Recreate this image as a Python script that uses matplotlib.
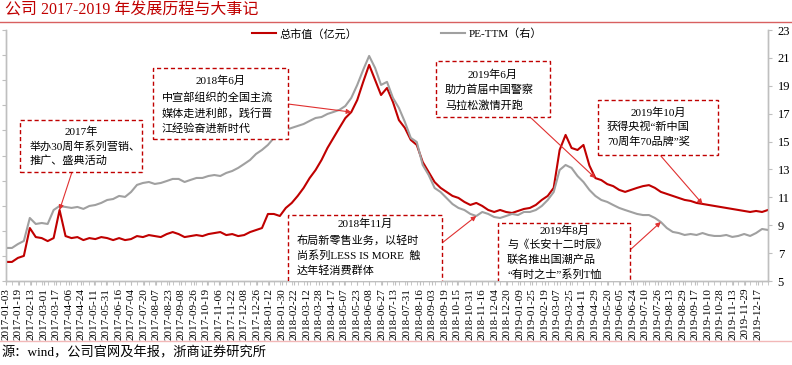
import matplotlib
matplotlib.use("Agg")
import matplotlib.pyplot as plt
from matplotlib.patches import Rectangle
from matplotlib.lines import Line2D
import numpy as np

plt.rcParams['font.family'] = ['Liberation Serif', 'Noto Sans CJK SC', 'DejaVu Sans']

# x tick labels (trading dates shown on the axis)
tick_labels = [
    '2017-01-03', '2017-01-19', '2017-02-13', '2017-03-01', '2017-03-17', '2017-04-06',
    '2017-04-24', '2017-05-11', '2017-05-31', '2017-06-16', '2017-07-04', '2017-07-20',
    '2017-08-07', '2017-08-23', '2017-09-08', '2017-09-26', '2017-10-19', '2017-11-06',
    '2017-11-22', '2017-12-08', '2017-12-26', '2018-01-12', '2018-01-30', '2018-02-22',
    '2018-03-12', '2018-03-28', '2018-04-17', '2018-05-07', '2018-05-23', '2018-06-08',
    '2018-06-27', '2018-07-13', '2018-07-31', '2018-08-16', '2018-09-03', '2018-09-19',
    '2018-10-15', '2018-10-31', '2018-11-16', '2018-12-04', '2018-12-20', '2019-01-09',
    '2019-01-25', '2019-02-19', '2019-03-07', '2019-03-25', '2019-04-11', '2019-04-29',
    '2019-05-20', '2019-06-05', '2019-06-24', '2019-07-10', '2019-07-26', '2019-08-13',
    '2019-08-29', '2019-09-17', '2019-10-10', '2019-10-28', '2019-11-13', '2019-11-29',
    '2019-12-17',
]

# total market value (亿元), read at even steps across the period, left axis (labels hidden)
mkt_cap = [
    7.6, 7.6, 9.2, 10.0, 21.1, 17.5, 17.1, 15.9, 17.1, 28.3,
    17.9, 17.1, 17.5, 16.3, 17.1, 16.7, 17.5, 17.1, 16.3, 17.1,
    16.3, 16.7, 17.9, 17.5, 18.3, 17.9, 17.5, 18.7, 19.5, 18.7,
    17.5, 17.9, 18.3, 17.9, 18.7, 19.1, 19.5, 18.3, 18.7, 17.9,
    18.3, 19.5, 20.3, 21.1, 26.7, 26.7, 25.9, 29.1, 31.1, 33.9,
    37.1, 41.0, 44.2, 48.2, 53.0, 57.0, 61.0, 64.9, 67.3, 72.1,
    79.3, 86.1, 80.1, 74.1, 76.9, 71.3, 64.1, 61.0, 56.2, 54.2,
    47.4, 43.4, 39.4, 37.1, 35.5, 33.9, 33.1, 31.5, 30.3, 31.1,
    29.9, 28.3, 27.5, 28.3, 27.5, 27.1, 27.9, 28.7, 29.1, 30.3,
    32.3, 33.9, 37.1, 52.2, 58.2, 53.0, 52.2, 54.2, 46.0, 41.0,
    40.2, 38.6, 37.8, 36.3, 35.5, 36.3, 37.1, 37.8, 38.2, 37.1,
    35.5, 34.7, 33.9, 33.1, 32.3, 31.9, 31.1, 30.7, 30.3, 29.9,
    29.5, 29.1, 28.7, 28.3, 27.9, 27.5, 27.9, 27.5, 28.3,
]

# PE-TTM, right axis
pe_ttm = [
    7.37, 7.37, 7.65, 7.87, 9.52, 9.09, 9.16, 9.09, 10.09, 10.38,
    10.31, 10.24, 10.31, 10.17, 10.38, 10.45, 10.60, 10.81, 10.88, 11.10,
    11.03, 11.38, 11.89, 12.03, 12.10, 11.96, 12.03, 12.17, 12.32, 12.32,
    12.10, 12.25, 12.39, 12.39, 12.53, 12.60, 12.53, 12.75, 12.89, 13.11,
    13.39, 13.68, 14.11, 14.40, 14.76, 15.26, 15.69, 15.83, 15.98, 16.12,
    16.26, 16.48, 16.69, 16.76, 16.98, 17.12, 17.27, 17.55, 18.13, 19.06,
    20.14, 21.14, 20.28, 19.06, 19.28, 18.13, 17.41, 16.41, 15.26, 14.97,
    13.32, 12.60, 11.67, 11.38, 10.95, 10.52, 10.24, 10.09, 9.81, 9.66,
    9.95, 9.81, 9.59, 9.52, 9.66, 9.81, 9.73, 9.95, 9.95, 10.09,
    10.38, 10.81, 11.38, 12.96, 13.32, 13.11, 12.53, 12.10, 11.53, 11.10,
    10.81, 10.67, 10.45, 10.24, 10.09, 9.95, 9.81, 9.73, 9.73, 9.52,
    9.23, 8.80, 8.52, 8.44, 8.30, 8.37, 8.30, 8.44, 8.30, 8.23,
    8.23, 8.30, 8.16, 8.23, 8.37, 8.23, 8.44, 8.73, 8.66,
]

events = [
    ('2017年', ['举办30周年系列营销、', '推广、盛典活动']),
    ('2018年6月', ['中宣部组织的全国主流', '媒体走进利郎，践行晋', '江经验奋进新时代']),
    ('2019年6月', ['助力首届中国警察', '马拉松激情开跑']),
    ('2019年10月', ['获得央视“新中国', '70周年70品牌”奖']),
    ('2018年11月', ['布局新零售业务，以轻时', '尚系列LESS IS MORE  触', '达年轻消费群体']),
    ('2019年8月', ['与《长安十二时辰》', '联名推出国潮产品', '“有时之士”系列T恤']),
]

RED = '#C00000'
GRAY = '#A0A0A0'
AX_GRAY = '#BFBFBF'
W, H = 792, 365

fig = plt.figure(figsize=(7.92, 3.65), dpi=100)
ax = fig.add_axes([6 / W, 1 - 281 / H, 762 / W, 251 / H])
ax2 = ax.twinx()

# the series run a little past the last labelled date
x_end = len(tick_labels) - 0.2
x = np.linspace(0, x_end, len(mkt_cap))
ax.plot(x, mkt_cap, color=RED, lw=1.5, zorder=3)
ax2.plot(x, pe_ttm, color=GRAY, lw=1.5)

ax.set_xlim(0, x_end)
ax.set_ylim(0, 100)
ax2.set_ylim(5, 23)
ax.set_yticks(np.arange(0, 101, 10))
ax.tick_params(axis='y', labelleft=False, length=3, color=AX_GRAY)
ax2.set_yticks(np.arange(5, 24, 2))
ax2.tick_params(axis='y', length=3, color=AX_GRAY, labelsize=9, pad=4)

ax.set_xticks(np.arange(len(tick_labels)))
ax.set_xticklabels(tick_labels, rotation=90, fontsize=8)
ax.set_xticks(x, minor=True)
ax.tick_params(axis='x', which='both', length=3, color=AX_GRAY, pad=2)

for a in (ax, ax2):
    a.spines['top'].set_visible(False)
    for s in ('left', 'right', 'bottom'):
        a.spines[s].set_color(AX_GRAY)
        a.spines[s].set_linewidth(1)

handles = [Line2D([], [], color=RED, lw=1.5), Line2D([], [], color=GRAY, lw=1.5)]
fig.legend(handles, ['总市值（亿元）', 'PE-TTM（右）'], loc='center',
           bbox_to_anchor=(397 / W, 1 - 34 / H), ncol=2, frameon=False,
           fontsize=8, handlelength=2.2, handletextpad=0.3, columnspacing=7.5)

# annotation boxes: (x0, y0, x1, y1) pixels, title y, body left x, body first y, line step
boxes = [
    (20, 120, 142, 172, 132, 30, 146, 15),
    (153, 68, 288, 139, 81, 162, 97, 16),
    (436, 61, 550, 117, 75, 445, 90, 15),
    (598, 100, 718, 155, 113, 607, 127, 15),
    (288, 215, 442, 290, 224, 297, 240, 15.5),
    (498, 223, 630, 300, 231, 507, 245, 15),
]
# arrow start (pixels) and the data point it points to
arrows = [
    ((72, 172), ax, 9, mkt_cap),
    ((288, 104), ax, 58, mkt_cap),
    ((530, 117), ax, 99, mkt_cap),
    ((660, 155), ax, 117, mkt_cap),
    ((442, 243), ax2, 79, pe_ttm),
    ((630, 250), ax2, 110, pe_ttm),
]


def fx(px):
    return px / W


def fy(py):
    return 1 - py / H


for (title, body), (x0, y0, x1, y1, ty, bx, by, step) in zip(events, boxes):
    rect = Rectangle((fx(x0), fy(y1)), fx(x1 - x0), (y1 - y0) / H,
                     transform=fig.transFigure, facecolor='white', edgecolor=RED,
                     lw=1, ls=(0, (3, 2)), zorder=10)
    ax2.add_patch(rect)
    ax2.text(fx((x0 + x1) / 2), fy(ty), title, transform=fig.transFigure,
             ha='center', va='center', fontsize=8, zorder=11, clip_on=True)
    for i, line in enumerate(body):
        ax2.text(fx(bx), fy(by + i * step), line, transform=fig.transFigure,
                 ha='left', va='center', fontsize=8, zorder=11, clip_on=True)

for (sx, sy), a, k, series in arrows:
    ax2.annotate('', xy=(x[k], series[k]), xycoords=a.transData,
                 xytext=(fx(sx), fy(sy)), textcoords='figure fraction',
                 arrowprops=dict(arrowstyle='-|>', color='#E03030', lw=0.8,
                                 mutation_scale=7, shrinkA=0, shrinkB=0),
                 zorder=9)

fig.text(5 / W, fy(10), '公司 2017-2019 年发展历程与大事记', color=RED,
         fontsize=11.5, ha='left', va='center')
fig.add_artist(Line2D([0, 1], [fy(22), fy(22)], color='#D86060', lw=1,
                      transform=fig.transFigure))
fig.add_artist(Line2D([0, 1], [fy(341), fy(341)], color='#F2B8B8', lw=1,
                      transform=fig.transFigure))
fig.text(1 / W, fy(353), '源：wind，公司官网及年报，浙商证券研究所',
         fontsize=9.5, ha='left', va='center')

fig.savefig('out.png', dpi=100)
